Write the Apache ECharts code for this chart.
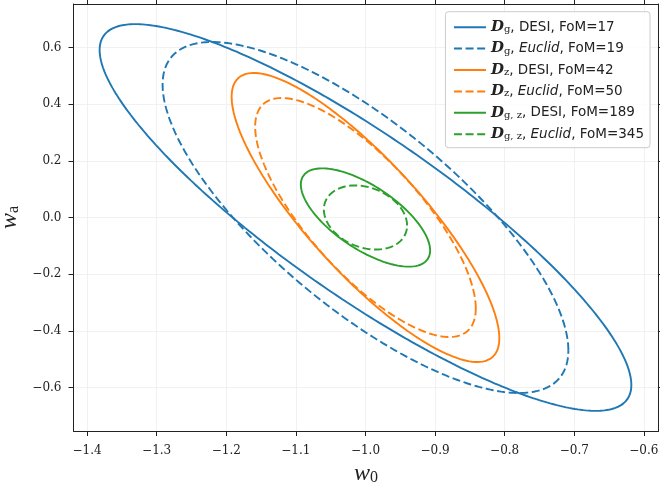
<!DOCTYPE html>
<html>
<head>
<meta charset="utf-8">
<script src="https://cdn.jsdelivr.net/npm/echarts@6/dist/echarts.min.js"></script>
<style>html,body{margin:0;padding:0;background:#fff;}#chart{width:660px;height:486px;}</style>
</head>
<body>
<div id="chart"></div>
<script>
// ---- data ----
const w0Fid = -1.0;
const waFid = 0.0;
const probeSub = ['g', 'g', 'z', 'z', 'g, z', 'g, z'];
const survey = ['DESI', 'Euclid', 'DESI', 'Euclid', 'DESI', 'Euclid'];
const fom = [17, 19, 42, 50, 189, 345];
const halfW0 = [0.382, 0.2915, 0.1923, 0.1585, 0.0929, 0.0598];
const halfWa = [0.682, 0.619, 0.5097, 0.4215, 0.1734, 0.113];
const corr = [-0.866, -0.757, -0.835, -0.76, -0.67, -0.25];
const colors = ['#1f77b4', '#1f77b4', '#ff7f0e', '#ff7f0e', '#2ca02c', '#2ca02c'];
const dashed = [false, true, false, true, false, true];
const xTicks = [-1.4, -1.3, -1.2, -1.1, -1.0, -0.9, -0.8, -0.7, -0.6];
const yTicks = [-0.6, -0.4, -0.2, 0.0, 0.2, 0.4, 0.6];
const xRange = [-1.4195, -0.579];
const yRange = [-0.753, 0.753];

// ---- build ellipse contours from centre, half-extents and correlation ----
function ellipse(i) {
  const pts = [];
  const n = 360;
  const s = Math.sqrt(1 - corr[i] * corr[i]);
  for (let k = 0; k <= n; k++) {
    const t = 2 * Math.PI * k / n;
    pts.push([w0Fid + halfW0[i] * Math.cos(t),
              waFid + halfWa[i] * (corr[i] * Math.cos(t) + s * Math.sin(t))]);
  }
  return pts;
}

const names = fom.map((f, i) => 'D_' + probeSub[i] + ', ' + survey[i] + ', FoM=' + f);
function legendText(name) {
  const i = names.indexOf(name);
  const sv = survey[i] === 'Euclid' ? '{it|Euclid}' : '{t|' + survey[i] + '}';
  return '{D|D}{sub|' + probeSub[i] + '}{t|, }' + sv + '{t|, FoM=' + fom[i] + '}';
}

const series = names.map((nm, i) => ({
  name: nm,
  type: 'line',
  xAxisIndex: 0,
  yAxisIndex: 0,
  data: ellipse(i),
  symbol: 'none',
  showSymbol: false,
  smooth: false,
  silent: true,
  animation: false,
  lineStyle: { color: colors[i], width: 1.9, type: dashed[i] ? [8, 3.6] : 'solid' },
  itemStyle: { color: colors[i] },
  z: 2 + i
}));

const tickCommon = { show: true, inside: false, length: 5, lineStyle: { color: '#222', width: 1 } };
const axLine = { show: true, onZero: false, lineStyle: { color: '#222', width: 1 } };
const gridLine = { show: true, lineStyle: { color: '#eeeeee', width: 0.8 } };
const serif = 'DejaVu Serif';
const mathSerif = 'Liberation Serif';

const chart = echarts.init(document.getElementById('chart'), null, { renderer: 'canvas' });
chart.setOption({
  animation: false,
  backgroundColor: '#ffffff',
  grid: { left: 73.5, right: 1.5, top: 4, bottom: 55, containLabel: false, outerBoundsMode: 'none' },
  xAxis: [
    {
      type: 'value', position: 'bottom', min: xRange[0], max: xRange[1],
      axisLine: axLine,
      axisTick: Object.assign({}, tickCommon, { customValues: xTicks }),
      axisLabel: { customValues: xTicks, margin: 14, color: '#222', fontFamily: serif, fontSize: 12,
                   formatter: v => (v < 0 ? '\u2212' : '') + Math.abs(v).toFixed(1) },
      splitLine: gridLine,
      name: '{w|w}{s|0}', nameLocation: 'middle', nameGap: 21,
      nameTextStyle: { rich: {
        w: { fontFamily: mathSerif, fontStyle: 'italic', fontSize: 24, color: '#222' },
        s: { fontFamily: mathSerif, fontSize: 16, color: '#222', padding: [8, 0, 0, 0] } } }
    },
    {
      type: 'value', position: 'top', min: xRange[0], max: xRange[1],
      axisLine: axLine,
      axisTick: Object.assign({}, tickCommon, { customValues: xTicks }),
      axisLabel: { show: false }, splitLine: { show: false }
    }
  ],
  yAxis: [
    {
      type: 'value', position: 'left', min: yRange[0], max: yRange[1],
      axisLine: axLine,
      axisTick: Object.assign({}, tickCommon, { customValues: yTicks }),
      axisLabel: { customValues: yTicks, margin: 12, color: '#222', fontFamily: serif, fontSize: 12,
                   formatter: v => (v < -1e-9 ? '\u2212' : '') + Math.abs(v).toFixed(1) },
      splitLine: gridLine,
      name: '{w|w}{s|a}', nameLocation: 'middle', nameGap: 43,
      nameTextStyle: { rich: {
        w: { fontFamily: mathSerif, fontStyle: 'italic', fontSize: 24, color: '#222' },
        s: { fontFamily: mathSerif, fontSize: 16, color: '#222', padding: [8, 0, 0, 0] } } }
    },
    {
      type: 'value', position: 'right', min: yRange[0], max: yRange[1],
      axisLine: axLine,
      axisTick: Object.assign({}, tickCommon, { customValues: yTicks }),
      axisLabel: { show: false }, splitLine: { show: false }
    }
  ],
  legend: {
    orient: 'vertical',
    right: 10, top: 11.7,
    itemWidth: 32, itemHeight: 15, itemGap: 6.4, itemTextGap: 13,
    padding: [8, 6, 6, 7.5],
    backgroundColor: 'rgba(255,255,255,0.85)',
    borderColor: '#cccccc', borderWidth: 1, borderRadius: 3,
    formatter: legendText,
    selectedMode: false,
    itemStyle: { opacity: 0 },
    textStyle: {
      color: '#222',
      rich: {
        D: { fontFamily: serif, fontStyle: 'italic', fontWeight: 'bold', fontSize: 15, lineHeight: 15 },
        sub: { fontFamily: serif, fontSize: 10, lineHeight: 10, padding: [5, 0, 0, 0] },
        t: { fontFamily: 'DejaVu Sans', fontSize: 13.5, lineHeight: 15 },
        it: { fontFamily: 'DejaVu Sans', fontStyle: 'italic', fontSize: 13.5, lineHeight: 15 }
      }
    },
    data: names
  },
  series: series
});
</script>
</body>
</html>
